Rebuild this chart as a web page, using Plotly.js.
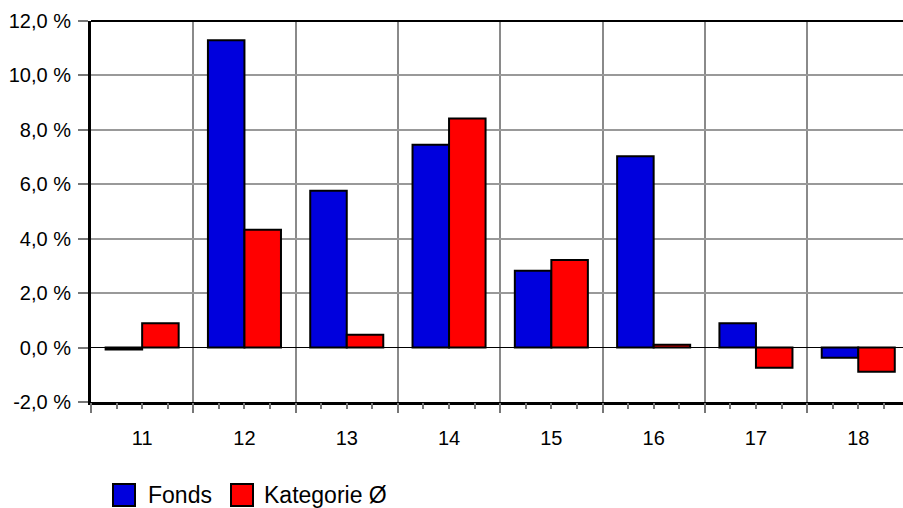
<!DOCTYPE html>
<html>
<head>
<meta charset="utf-8">
<script src="https://cdn.plot.ly/plotly-3.0.1.min.js"></script>
<style>html,body{margin:0;padding:0;background:#fff;}#chart{width:903px;height:508px;}</style>
</head>
<body>
<div id="chart"></div>
<script>
const categories = ["11", "12", "13", "14", "15", "16", "17", "18"];
const fonds = [-0.07, 11.29, 5.76, 7.45, 2.82, 7.03, 0.89, -0.37];
const kategorie = [0.89, 4.33, 0.47, 8.42, 3.22, 0.10, -0.74, -0.89];
const seriesNames = ["Fonds", "Kategorie Ø"];
const seriesColors = ["#0000dd", "#ff0000"];
const yTicks = [-2, 0, 2, 4, 6, 8, 10, 12];
const yTickText = yTicks.map(v => v.toFixed(1).replace(".", ",") + " %");

const W = 903, H = 508;
const mL = 91, mR = 0, mT = 21, mB = 106;
const plotW = W - mL - mR, plotH = H - mT - mB;
const catW = 102.3;
const xMax = -0.5 + plotW / catW;

const fam = "Liberation Sans, Arial, sans-serif";
const axisFont = {family: fam, size: 20, color: "#000"};
const legendFont = {family: fam, size: 23, color: "#000"};

const traces = [fonds, kategorie].map((vals, i) => ({
  type: "bar",
  x: categories,
  y: vals,
  name: seriesNames[i],
  marker: {color: seriesColors[i], line: {color: "#000", width: 2}},
  hoverinfo: "x+y+name",
  showlegend: false
}));
// empty helper trace so the tick-mark axis (x2) is drawn
traces.push({type: "scatter", x: [], y: [], xaxis: "x2", yaxis: "y",
  hoverinfo: "skip", showlegend: false});

// legend drawn manually (large squares)
const px = v => (v - mL) / plotW;
const py = v => (H - mB - v) / plotH;
const legendItems = [{box: 113, text: 146}, {box: 231, text: 262}];
const shapes = [];
const annotations = [];
legendItems.forEach((it, i) => {
  shapes.push({type: "rect", xref: "paper", yref: "paper",
    x0: px(it.box), x1: px(it.box + 22), y0: py(506), y1: py(484),
    fillcolor: seriesColors[i], line: {color: "#000", width: 2}});
  annotations.push({xref: "paper", yref: "paper", x: px(it.text), y: py(495),
    xanchor: "left", yanchor: "middle", showarrow: false, text: seriesNames[i],
    font: legendFont});
});
// top border
shapes.push({type: "line", xref: "paper", yref: "paper", x0: 0, x1: 1, y0: 1, y1: 1,
  line: {color: "#000", width: 2}});

const layout = {
  width: W, height: H,
  margin: {l: mL, r: mR, t: mT, b: mB, pad: 0},
  paper_bgcolor: "#fff", plot_bgcolor: "#fff",
  font: axisFont,
  barmode: "group",
  bargap: 0.286,
  bargroupgap: 0,
  showlegend: false,
  xaxis: {
    type: "category",
    range: [-0.5, xMax],
    tickson: "boundaries",
    ticks: "",
    showgrid: true, gridcolor: "#8a8a8a", gridwidth: 2,
    showline: true, linecolor: "#000", linewidth: 3,
    ticklabelstandoff: 16,
    tickfont: axisFont,
    fixedrange: true
  },
  xaxis2: {
    overlaying: "x",
    anchor: "y",
    side: "bottom",
    range: [-0.5, xMax],
    tick0: -0.5, dtick: 1,
    ticks: "outside", ticklen: 10, tickwidth: 2, tickcolor: "#777",
    showticklabels: false, showgrid: false, zeroline: false, showline: false,
    minor: {tick0: -0.5, dtick: 0.25, ticks: "outside", ticklen: 6, tickwidth: 2, tickcolor: "#777", showgrid: false},
    fixedrange: true
  },
  yaxis: {
    range: [-2, 12],
    tickmode: "array",
    tickvals: yTicks,
    ticktext: yTickText,
    ticks: "outside", ticklen: 10, tickwidth: 2, tickcolor: "#777",
    showgrid: true, gridcolor: "#999", gridwidth: 2,
    zeroline: true, zerolinecolor: "#000", zerolinewidth: 1.5,
    showline: true, linecolor: "#000", linewidth: 3,
    ticklabelstandoff: 3,
    tickfont: axisFont,
    fixedrange: true
  },
  shapes: shapes,
  annotations: annotations
};

Plotly.newPlot("chart", traces, layout, {displayModeBar: false, staticPlot: true});
</script>
</body>
</html>
